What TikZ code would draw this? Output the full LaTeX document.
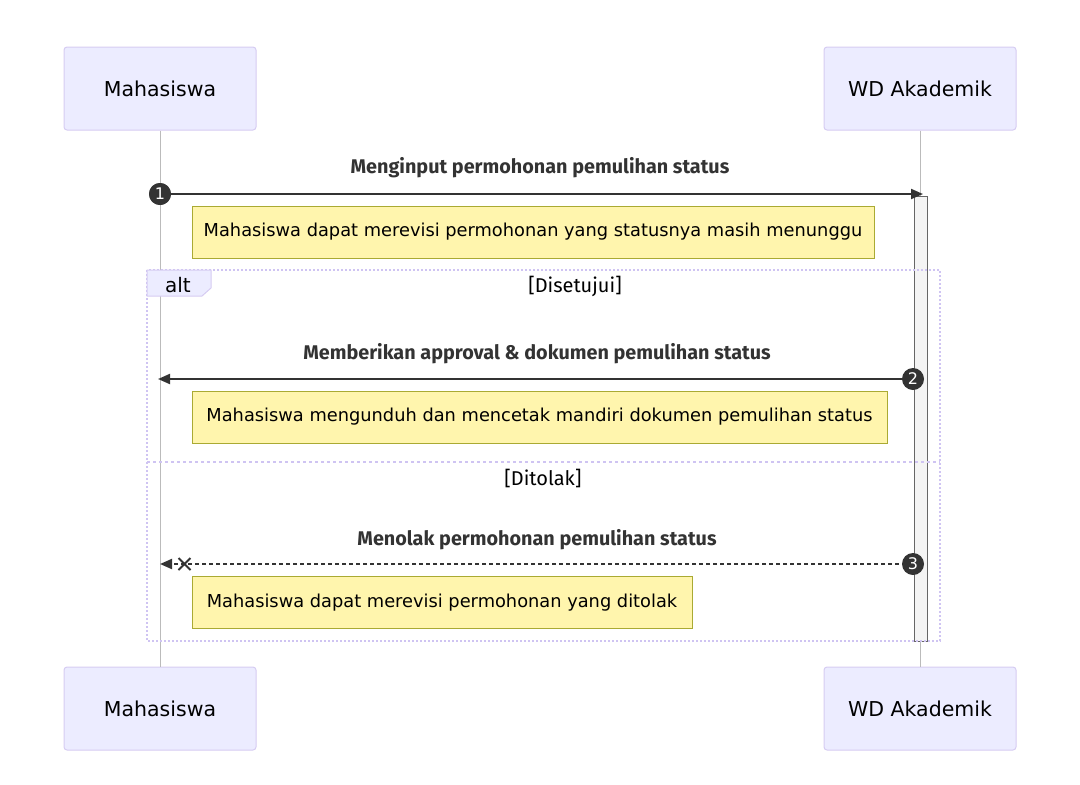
\documentclass[tikz,border=0pt]{standalone}
\usepackage{fontspec}
\setmainfont{DejaVu Sans}
\newfontfamily\msgfont{Fira Sans}
\usetikzlibrary{arrows.meta,calc}
\definecolor{actfill}{HTML}{ECECFF}
\definecolor{actline}{HTML}{D6CCF2}
\definecolor{framecol}{HTML}{CFC4F2}
\definecolor{notefill}{HTML}{FFF5AD}
\definecolor{noteline}{HTML}{AAAA33}
\definecolor{sig}{HTML}{333333}
\definecolor{actvfill}{HTML}{F4F4F4}
\definecolor{actvline}{HTML}{666666}
\definecolor{life}{HTML}{BBBBBB}

\tikzset{
	actor/.style={draw=actline, fill=actfill, rounded corners=3pt, line width=1pt,
		minimum width=192pt, minimum height=83pt, inner sep=0pt, font=\fontsize{20.5}{24}\selectfont},
	notebox/.style={draw=noteline, fill=notefill, line width=1pt, inner sep=0pt,
		minimum height=52pt, font=\fontsize{17.8}{21}\selectfont},
	msglbl/.style={text=sig, font=\msgfont\bfseries\fontsize{19.8}{23}\selectfont},
	seqnum/.style={circle, fill=sig, text=white, inner sep=0pt, minimum size=22pt,
		font=\fontsize{16}{18}\selectfont},
	signal/.style={draw=sig, line width=2pt, -{Triangle[length=12pt,width=10pt]}},
	altlbl/.style={text=black, font=\msgfont\fontsize{20}{24}\selectfont},
}

\begin{document}
\begin{tikzpicture}[x=1pt, y=-1pt]
\useasboundingbox (0,0) rectangle (1080,785);
% actors
\node[actor] (mhs) at (160,88.5) {Mahasiswa};
\node[actor] (wd) at (920,88.5) {WD Akademik};
\node[actor] (mhsb) at (160,708.5) {Mahasiswa};
\node[actor] (wdb) at (920,708.5) {WD Akademik};
\draw[life, line width=1pt] (mhs.south) -- (mhsb.north);
\draw[life, line width=1pt] (wd.south) -- (wdb.north);
% activation
\draw[draw=actvline, fill=actvfill, line width=1pt] (914,196) rectangle (927,641);
% alt frame
\draw[framecol, line width=2pt, dash pattern=on 2pt off 2pt] (147,270) rectangle (940,641);
\draw[framecol, line width=2pt, dash pattern=on 3pt off 3pt] (147,462) -- (940,462);
\draw[draw=actline, fill=actfill, line width=1pt] (147,270) -- (211,270) -- (211,288) -- (202,296) -- (147,296) -- cycle;
\node[font=\fontsize{20}{24}\selectfont] (alt) at (178,285) {alt};
\node[altlbl] (yes) at (575,286) {[Disetujui]};
\node[altlbl] (no) at (543,478) {[Ditolak]};

% message 1
\node[msglbl] (m1) at (540,168) {Menginput permohonan pemulihan status};
\coordinate (t1) at (923,194);
\node[seqnum] (n1) at (160,194) {};
\draw[signal] (n1.center) -- (t1);
\node[seqnum] at (n1) {1};
\node[notebox, minimum width=682pt] (note1) at (533,232) {Mahasiswa dapat merevisi permohonan yang statusnya masih menunggu};

% message 2
\node[msglbl] (m2) at (537,354) {Memberikan approval \& dokumen pemulihan status};
\coordinate (t2) at (158,379);
\coordinate (s2) at (913,379);
\draw[signal] (s2) -- (t2);
\node[seqnum] (n2) at (s2) {2};
\node[notebox, minimum width=695pt] (note2) at (539.5,417) {Mahasiswa mengunduh dan mencetak mandiri dokumen pemulihan status};

% message 3
\node[msglbl] (m3) at (537,540) {Menolak permohonan pemulihan status};
\coordinate (t3) at (160,564);
\coordinate (s3) at (913,564);
\coordinate (x3) at (184.5,564);
\draw[signal, dash pattern=on 4pt off 3pt] (s3) -- (t3);
\draw[sig, line width=2pt] ($(x3)+(-6,-6)$) -- ($(x3)+(6,6)$) ($(x3)+(-6,6)$) -- ($(x3)+(6,-6)$);
\node[seqnum] (n3) at (s3) {3};
\node[notebox, minimum width=500pt] (note3) at (442,602.5) {Mahasiswa dapat merevisi permohonan yang ditolak};
\end{tikzpicture}
\end{document}
